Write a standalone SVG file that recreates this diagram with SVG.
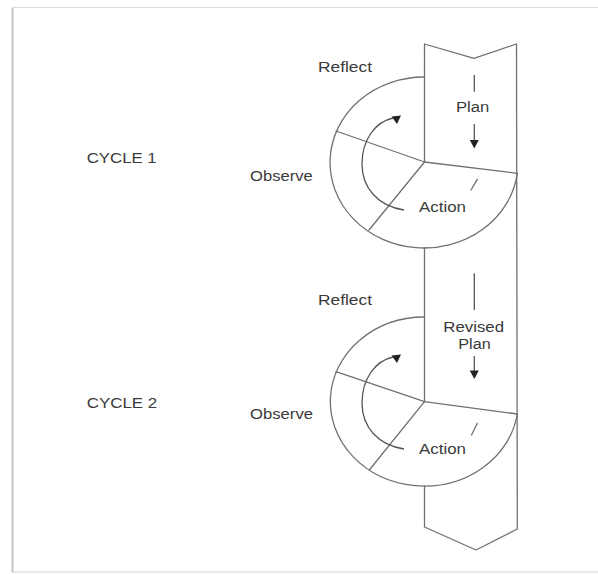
<svg xmlns="http://www.w3.org/2000/svg" width="598" height="574" viewBox="0 0 598 574">
<style>
.ln{fill:none;stroke:#707070;stroke-width:1.3;stroke-linecap:round;stroke-linejoin:round}
.ar{fill:none;stroke:#555;stroke-width:1.3}
.hd{fill:#222;stroke:none}
.t{font-family:"Liberation Sans",Arial,sans-serif;font-size:15.5px;fill:#3a3a3a}
</style>
<rect x="0" y="0" width="598" height="574" fill="#fff"/>
<g id="frame">
<rect x="12.5" y="7.5" width="588" height="564.5" fill="none" stroke="#dcdcdc" stroke-width="1.2"/>
<line x1="12.5" y1="8" x2="12.5" y2="572" stroke="#c4c4c4" stroke-width="2"/>
</g>
<g id="band">
<path class="ln" d="M424.5 162 V44 L474 58.3 L516.5 44 L517.3 529 L476 550 L424.5 527 V486"/>
<path class="ln" d="M424.5 248 V401.7"/>
</g>
<g id="cycle1">
<path class="ln" d="M424.5 77 A94 85.5 0 1 0 517.3 173.3"/>
<path class="ln" d="M424.5 162 L336 131 M424.5 162 L369 230 M424.5 162 L517.3 173.3"/>
<line class="ln" x1="477.3" y1="179.3" x2="471" y2="190"/>
</g>
<g id="cycle2">
<path class="ln" d="M424.5 317 A94 84.5 0 1 0 517.3 414"/>
<path class="ln" d="M424.5 401.7 L336 371.7 M424.5 401.7 L369.3 470 M424.5 401.7 L517.3 414"/>
<line class="ln" x1="477.3" y1="423.3" x2="471.5" y2="435"/>
</g>
<g id="connectors">
<path class="ar" d="M404 210 C378 206 362 188 362 164 C362 140 375 122 393 118"/>
<polygon class="hd" points="391.5,116.5 401,115.5 397,124"/>
<path class="ar" d="M404 449 C378 445 362 427 362 403 C362 379 375 361 393 357"/>
<polygon class="hd" points="391.5,355.5 401,354.5 397,363"/>
<line class="ar" x1="474.3" y1="75" x2="474.3" y2="91.7"/>
<line class="ar" x1="474.3" y1="124" x2="474.3" y2="141"/>
<polygon class="hd" points="469.8,140 478.8,140 474.3,148.5"/>
<line class="ar" x1="474.3" y1="273.3" x2="474.3" y2="310"/>
<line class="ar" x1="474.3" y1="356" x2="474.3" y2="371.5"/>
<polygon class="hd" points="469.8,370.5 478.8,370.5 474.3,379"/>
</g>
<g id="labels">
<text class="t" x="318" y="71.7" textLength="54" lengthAdjust="spacingAndGlyphs">Reflect</text>
<text class="t" x="456" y="111.7" textLength="33.3" lengthAdjust="spacingAndGlyphs">Plan</text>
<text class="t" x="86.7" y="162.7" textLength="70" lengthAdjust="spacingAndGlyphs">CYCLE 1</text>
<text class="t" x="250" y="180.5" textLength="62.7" lengthAdjust="spacingAndGlyphs">Observe</text>
<text class="t" x="419" y="211.7" textLength="47" lengthAdjust="spacingAndGlyphs">Action</text>
<text class="t" x="318" y="305" textLength="54" lengthAdjust="spacingAndGlyphs">Reflect</text>
<text class="t" x="443.3" y="331.7" textLength="60.7" lengthAdjust="spacingAndGlyphs">Revised</text>
<text class="t" x="458.3" y="349" textLength="32.4" lengthAdjust="spacingAndGlyphs">Plan</text>
<text class="t" x="86.7" y="408.3" textLength="70.6" lengthAdjust="spacingAndGlyphs">CYCLE 2</text>
<text class="t" x="250" y="418.5" textLength="63" lengthAdjust="spacingAndGlyphs">Observe</text>
<text class="t" x="419" y="454.3" textLength="47" lengthAdjust="spacingAndGlyphs">Action</text>
</g>
</svg>
